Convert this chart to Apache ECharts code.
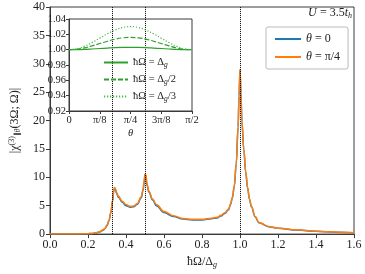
<!DOCTYPE html>
<html><head><meta charset="utf-8">
<script src="https://cdn.jsdelivr.net/npm/echarts@6/dist/echarts.min.js"></script>
<style>html,body{margin:0;padding:0;background:#fff}#c{width:365px;height:274px}</style>
</head><body><div id="c"></div>
<script>
// Main chart data
const freq = [0, 0.1, 0.15, 0.2, 0.22, 0.24, 0.26, 0.28, 0.29, 0.30, 0.31, 0.32, 0.33, 0.335, 0.34, 0.345, 0.35, 0.36, 0.38, 0.40, 0.42, 0.44, 0.46, 0.48, 0.49, 0.495, 0.50, 0.505, 0.51, 0.52, 0.54, 0.56, 0.60, 0.65, 0.70, 0.75, 0.80, 0.85, 0.88, 0.90, 0.92, 0.94, 0.95, 0.96, 0.97, 0.98, 0.99, 0.995, 1.0, 1.005, 1.01, 1.02, 1.03, 1.04, 1.05, 1.06, 1.08, 1.10, 1.15, 1.2, 1.3, 1.4, 1.5, 1.6];
const chiTheta0 = [0, 0.0, 0.02, 0.07, 0.11, 0.2, 0.37, 0.7, 1.0, 1.5, 2.3, 3.7, 5.9, 7.5, 8.1, 7.8, 7.2, 6.5, 5.6, 5.0, 4.75, 4.8, 5.25, 6.4, 7.7, 9.0, 10.4, 10.2, 8.7, 7.4, 6.0, 5.0, 3.8, 3.1, 2.65, 2.5, 2.5, 2.7, 2.85, 3.2, 3.65, 4.3, 5.2, 6.4, 8.4, 12.3, 18.8, 24.3, 28.9, 24.8, 19.8, 14.9, 10.9, 8.1, 6.1, 4.8, 3.0, 2.0, 1.3, 1.02, 0.72, 0.48, 0.33, 0.24];
const chiThetaPi4 = [0, 0.0, 0.02, 0.08, 0.12, 0.22, 0.4, 0.75, 1.05, 1.6, 2.4, 3.8, 6.0, 7.6, 8.2, 7.9, 7.4, 6.7, 5.8, 5.2, 4.9, 4.95, 5.4, 6.6, 7.9, 9.2, 10.6, 10.4, 8.9, 7.6, 6.2, 5.2, 4.0, 3.25, 2.75, 2.6, 2.6, 2.8, 2.95, 3.3, 3.75, 4.4, 5.3, 6.5, 8.5, 12.4, 18.9, 24.4, 29.0, 24.9, 19.9, 15.0, 11.0, 8.2, 6.2, 4.9, 3.1, 2.05, 1.35, 1.05, 0.75, 0.5, 0.35, 0.25];
const resonances = [1/3, 0.5, 1.0];
const xTicks = ['0.0','0.2','0.4','0.6','0.8','1.0','1.2','1.4','1.6'];
const yTicks = ['0','5','10','15','20','25','30','35','40'];
// Inset data
const theta = [0, 0.0982, 0.1963, 0.2945, 0.3927, 0.4909, 0.5890, 0.6872, 0.7854, 0.8836, 0.9817, 1.0799, 1.1781, 1.2763, 1.3744, 1.4726, 1.5708];
const ratioDg = [1.000, 1.0001, 1.0004, 1.0009, 1.0015, 1.0021, 1.0026, 1.0029, 1.0030, 1.0029, 1.0026, 1.0021, 1.0015, 1.0009, 1.0004, 1.0001, 1.000];
const ratioDg2 = [1.000, 1.0006, 1.0023, 1.0050, 1.0080, 1.0110, 1.0137, 1.0154, 1.0160, 1.0154, 1.0137, 1.0110, 1.0080, 1.0050, 1.0023, 1.0006, 1.000];
const ratioDg3 = [1.000, 1.0011, 1.0044, 1.0093, 1.0150, 1.0207, 1.0256, 1.0289, 1.0300, 1.0289, 1.0256, 1.0207, 1.0150, 1.0093, 1.0044, 1.0011, 1.000];
const thetaTicks = ['0', 'π/8', 'π/4', '3π/8', 'π/2'];

const F = "'Liberation Serif', 'DejaVu Serif', serif";
const ax = '#3a3a3a';
const zip = (a, b) => a.map((v, i) => [v, b[i]]);

const chart = echarts.init(document.getElementById('c'), null, {renderer: 'canvas'});
const subRich = {
  a: {fontFamily: F, fontSize: 12, color: '#222'},
  ai: {fontFamily: F, fontSize: 12, fontStyle: 'italic', color: '#222'},
  s: {fontFamily: F, fontSize: 8, fontStyle: 'italic', color: '#222', padding: [6, 0, 0, 0]},
  p: {fontFamily: F, fontSize: 8, color: '#222', padding: [0, 0, 6, 0]}
};
const insRich = {
  a: {fontFamily: F, fontSize: 10.5, color: '#222'},
  s: {fontFamily: F, fontSize: 7.5, fontStyle: 'italic', color: '#222', padding: [5, 0, 0, 0]}
};
const insNames = ['ħΩ = Δg', 'ħΩ = Δg/2', 'ħΩ = Δg/3'];
const insFmt = {
  'ħΩ = Δg': '{a|ħΩ = Δ}{s|g}',
  'ħΩ = Δg/2': '{a|ħΩ = Δ}{s|g}{a|/2}',
  'ħΩ = Δg/3': '{a|ħΩ = Δ}{s|g}{a|/3}'
};
const mainFmt = {
  'θ = 0': '{i|θ}{a| = 0}',
  'θ = π/4': '{i|θ}{a| = π/4}'
};
const legRich = {
  a: {fontFamily: F, fontSize: 12, color: '#222'},
  i: {fontFamily: F, fontSize: 12, fontStyle: 'italic', color: '#222'}
};

chart.setOption({
  animation: false,
  backgroundColor: '#fff',
  grid: [
    {left: 43, top: 7, right: 11, bottom: 38, show: true, borderColor: ax, borderWidth: 1, z: 0},
    {left: 69, top: 19, width: 123, height: 92, show: true, backgroundColor: '#fff', borderColor: ax, borderWidth: 1, z: 3}
  ],
  xAxis: [
    {gridIndex: 0, type: 'value', min: 0, max: 1.6, interval: 0.2,
     axisLine: {lineStyle: {color: ax}}, axisTick: {length: 4, lineStyle: {color: ax}}, splitLine: {show: false},
     axisLabel: {fontFamily: F, fontSize: 12, color: '#222', margin: 5, formatter: v => xTicks[Math.round(v / 0.2)]},
     name: '{a|ħΩ/Δ}{s|g}', nameLocation: 'middle', nameGap: 19,
     nameTextStyle: {rich: subRich}},
    {gridIndex: 1, type: 'value', min: 0, max: 1.5708, interval: 0.3927, z: 4,
     axisLine: {lineStyle: {color: ax}}, axisTick: {length: 3, lineStyle: {color: ax}}, splitLine: {show: false},
     axisLabel: {fontFamily: F, fontSize: 10.5, color: '#222', margin: 4, formatter: v => thetaTicks[Math.round(v / 0.3927)]},
     name: 'θ', nameLocation: 'middle', nameGap: 17,
     nameTextStyle: {fontFamily: F, fontSize: 10.5, fontStyle: 'italic', color: '#222'}}
  ],
  yAxis: [
    {gridIndex: 0, type: 'value', min: 0, max: 40, interval: 5,
     axisLine: {show: true, lineStyle: {color: ax}}, axisTick: {show: true, length: 4, lineStyle: {color: ax}}, splitLine: {show: false},
     axisLabel: {fontFamily: F, fontSize: 12, color: '#222', margin: 5, formatter: v => yTicks[Math.round(v / 5)]},
     name: '{a||χ}{p|(3)}{s|∥θ}{a|(3Ω; Ω)|}', nameLocation: 'middle', nameGap: 28,
     nameTextStyle: {rich: subRich}},
    {gridIndex: 1, type: 'value', min: 0.92, max: 1.04, interval: 0.02, z: 4,
     axisLine: {show: true, lineStyle: {color: ax}}, axisTick: {show: true, length: 3, lineStyle: {color: ax}}, splitLine: {show: false},
     axisLabel: {fontFamily: F, fontSize: 10.5, color: '#222', margin: 3, showMinLabel: true, showMaxLabel: true, formatter: v => v.toFixed(2)}}
  ],
  legend: [
    {data: ['θ = 0', 'θ = π/4'], orient: 'vertical', left: 266, top: 27, width: 83,
     padding: [6, 8, 6, 8], itemGap: 6, itemWidth: 26, itemHeight: 10,
     itemStyle: {opacity: 0}, formatter: n => mainFmt[n],
     borderColor: '#bbb', borderWidth: 1, borderRadius: 2, backgroundColor: '#fff',
     textStyle: {rich: legRich}},
    {data: insNames, orient: 'vertical', left: 103, top: 57, padding: 0, itemGap: 5, itemWidth: 24, itemHeight: 10, z: 6,
     itemStyle: {opacity: 0}, formatter: n => insFmt[n], textStyle: {rich: insRich}}
  ],
  graphic: [
    {type: 'text', right: 13, top: 7, z: 10,
     style: {text: '{ai|U} {a|= 3.5}{ai|t}{s|h}', rich: subRich, fill: '#222'}}
  ],
  series: [
    {name: 'θ = 0', type: 'line', xAxisIndex: 0, yAxisIndex: 0, data: zip(freq, chiTheta0),
     showSymbol: false, symbol: 'none', smooth: 0.4, smoothMonotone: 'x', z: 2,
     lineStyle: {color: '#1f77b4', width: 1.5}, itemStyle: {color: '#1f77b4'},
     markLine: {silent: true, symbol: 'none', label: {show: false},
       lineStyle: {color: '#000', type: 'dotted', width: 1}, data: resonances.map(v => ({xAxis: v}))}},
    {name: 'θ = π/4', type: 'line', xAxisIndex: 0, yAxisIndex: 0, data: zip(freq, chiThetaPi4),
     showSymbol: false, symbol: 'none', smooth: 0.4, smoothMonotone: 'x', z: 2,
     lineStyle: {color: '#ff7f0e', width: 1.5}, itemStyle: {color: '#ff7f0e'}},
    {name: insNames[0], type: 'line', xAxisIndex: 1, yAxisIndex: 1, data: zip(theta, ratioDg),
     showSymbol: false, symbol: 'none', smooth: true, z: 5,
     lineStyle: {color: '#2ca02c', width: 1.2}, itemStyle: {color: '#2ca02c'}},
    {name: insNames[1], type: 'line', xAxisIndex: 1, yAxisIndex: 1, data: zip(theta, ratioDg2),
     showSymbol: false, symbol: 'none', smooth: true, z: 5,
     lineStyle: {color: '#2ca02c', width: 1.2, type: [5, 2]}, itemStyle: {color: '#2ca02c'}},
    {name: insNames[2], type: 'line', xAxisIndex: 1, yAxisIndex: 1, data: zip(theta, ratioDg3),
     showSymbol: false, symbol: 'none', smooth: true, z: 5,
     lineStyle: {color: '#4cb84c', width: 1.2, type: [1.2, 1.8]}, itemStyle: {color: '#4cb84c'}}
  ]
});
</script></body></html>
